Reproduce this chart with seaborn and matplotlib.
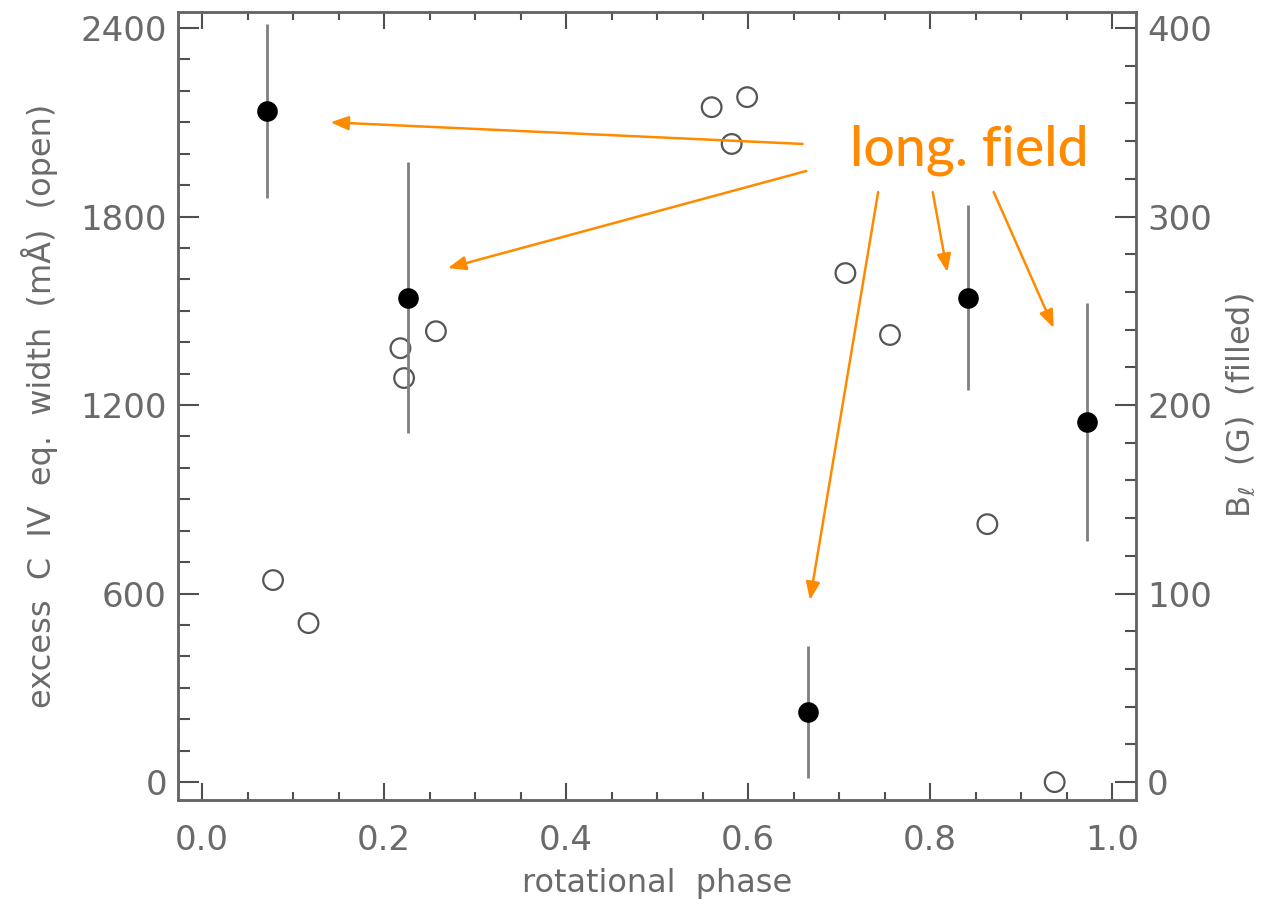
import matplotlib
matplotlib.use("Agg")
import matplotlib.pyplot as plt
import seaborn as sns
import numpy as np
import pandas as pd
from matplotlib.ticker import MultipleLocator

# ---- data ----
open_phase = [0.078, 0.117, 0.218, 0.222, 0.257, 0.560, 0.582, 0.599, 0.707, 0.756, 0.863, 0.937]
open_ew = [643, 506, 1381, 1286, 1435, 2148, 2031, 2180, 1620, 1423, 821, 0]

filled_phase = [0.071, 0.226, 0.666, 0.842, 0.972]
filled_bl = [356, 257, 37, 257, 191]
filled_err = [46, 72, 35, 49, 63]

x_ticks = [0.0, 0.2, 0.4, 0.6, 0.8, 1.0]
y_ticks_left = [0, 600, 1200, 1800, 2400]
y_ticks_right = [0, 100, 200, 300, 400]

annot_text = "long. field"
# arrow start/end in data coordinates (left axis)
arrow_starts = [(0.660, 2031), (0.664, 1945), (0.743, 1878), (0.803, 1878), (0.870, 1878)]
arrow_ends = [(0.141, 2100), (0.270, 1636), (0.668, 579), (0.819, 1623), (0.936, 1445)]

sns.set_theme(style="white")
plt.rcParams['font.family'] = ['DejaVu Sans']

AX_COL = "#505050"
TXT_COL = "#6a6a6a"
ORANGE = "#FF8A00"

fig = plt.figure(figsize=(12.61, 9.08), dpi=100)
ax = fig.add_axes([0.1412, 0.1189, 0.9009 - 0.1412, 0.9868 - 0.1189])
ax2 = ax.twinx()

XL = (-0.0264, 1.0264)
YL = (-57, 2451)
ax.set_xlim(*XL)
ax.set_ylim(*YL)
ax2.set_ylim(YL[0] / 6, YL[1] / 6)

df_open = pd.DataFrame({"phase": open_phase, "ew": open_ew})
df_fill = pd.DataFrame({"phase": filled_phase, "bl": filled_bl, "err": filled_err})

sns.scatterplot(data=df_open, x="phase", y="ew", ax=ax, marker="o", s=200,
                facecolor="none", edgecolor="#555555", linewidth=1.6, legend=False, zorder=3)

ax2.errorbar(df_fill["phase"], df_fill["bl"], yerr=df_fill["err"], fmt="none",
             ecolor="#808080", elinewidth=2.0, capsize=0, zorder=2)
sns.scatterplot(data=df_fill, x="phase", y="bl", ax=ax2, marker="o", s=220,
                color="black", edgecolor="black", linewidth=0, legend=False, zorder=4)

for a in (ax, ax2):
    for sp in a.spines.values():
        sp.set_color("#666666")
        sp.set_linewidth(1.8)

ax.set_xticks(x_ticks)
ax.set_xticklabels([f"{v:.1f}" for v in x_ticks])
ax.xaxis.set_minor_locator(MultipleLocator(0.05))
ax.set_yticks(y_ticks_left)
ax.set_yticklabels([str(v) for v in y_ticks_left])
ax.yaxis.set_minor_locator(MultipleLocator(100))
ax2.set_yticks(y_ticks_right)
ax2.set_yticklabels([str(v) for v in y_ticks_right])
ax2.yaxis.set_minor_locator(MultipleLocator(20))

LS = 24.5
ax.tick_params(axis="x", which="both", direction="in", top=True, bottom=True,
               colors=AX_COL, labelcolor=TXT_COL, labelsize=LS, width=1.5, pad=17)
ax.tick_params(axis="x", which="major", length=12)
ax.tick_params(axis="x", which="minor", length=6)
ax.tick_params(axis="y", which="both", direction="in", left=True, right=False,
               colors=AX_COL, labelcolor=TXT_COL, labelsize=LS, width=1.5, pad=8)
ax.tick_params(axis="y", which="major", length=15)
ax.tick_params(axis="y", which="minor", length=8.5)
ax2.tick_params(axis="y", which="both", direction="in", left=False, right=True,
                colors=AX_COL, labelcolor=TXT_COL, labelsize=LS, width=1.5, pad=8)
ax2.tick_params(axis="y", which="major", length=15)
ax2.tick_params(axis="y", which="minor", length=8)

FS = 23
ax.set_xlabel("rotational  phase", fontsize=FS, color=TXT_COL, labelpad=8)
ax.set_ylabel("excess  C  IV  eq.  width  (mÅ)  (open)", fontsize=FS, color=TXT_COL, labelpad=16)
ax2.set_ylabel(r"B$_{\ell}$  (G)  (filled)", fontsize=FS, color=TXT_COL, labelpad=9)

for (sx, sy), (ex, ey) in zip(arrow_starts, arrow_ends):
    ax.annotate("", xy=(ex, ey), xytext=(sx, sy), xycoords="data", textcoords="data",
                arrowprops=dict(arrowstyle="-|>,head_length=0.9,head_width=0.35",
                                color=ORANGE, lw=1.8, shrinkA=0, shrinkB=0), zorder=5)

ax.text(0.843, 1964, annot_text, color=ORANGE, fontsize=40, fontweight="medium",
        family=["Lato", "DejaVu Sans"], ha="center", va="baseline", zorder=6)

fig.savefig("out.png", dpi=100)
